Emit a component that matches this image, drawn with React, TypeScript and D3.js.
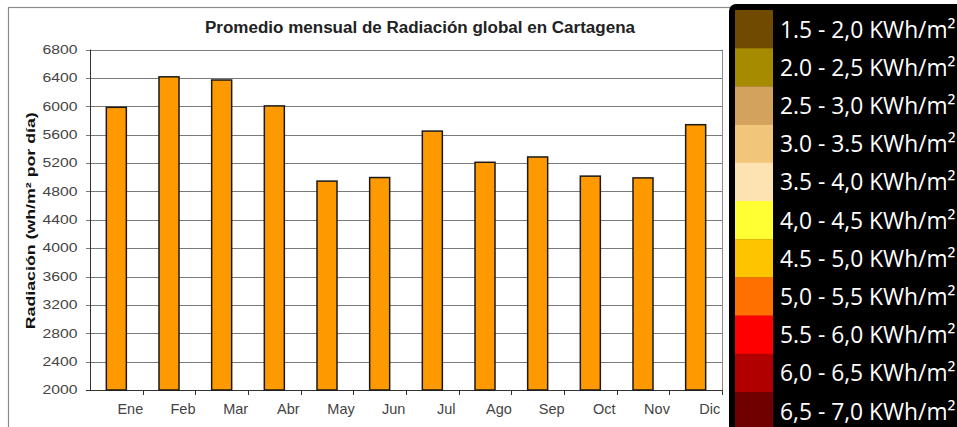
import React, { useEffect, useRef } from "react";
import * as d3 from "d3";

// Datos
const MONTHS = ["Ene", "Feb", "Mar", "Abr", "May", "Jun", "Jul", "Ago", "Sep", "Oct", "Nov", "Dic"];
const RADIATION = [5985, 6415, 6370, 6005, 4945, 4995, 5650, 5210, 5285, 5015, 4990, 5740];
const Y_TICKS = [2000, 2400, 2800, 3200, 3600, 4000, 4400, 4800, 5200, 5600, 6000, 6400, 6800];

const LEGEND_LABELS = [
    "1.5 - 2,0 KWh/m²",
    "2.0 - 2,5 KWh/m²",
    "2.5 - 3,0 KWh/m²",
    "3.0 - 3.5 KWh/m²",
    "3.5 - 4,0 KWh/m²",
    "4,0 - 4,5 KWh/m²",
    "4.5 - 5,0 KWh/m²",
    "5,0 - 5,5 KWh/m²",
    "5.5 - 6,0 KWh/m²",
    "6,0 - 6,5 KWh/m²",
    "6,5 - 7,0 KWh/m²",
];
const LEGEND_COLORS = [
    "#704a00", "#a68b00", "#d3a25d", "#f2c67a", "#fee3b2",
    "#ffff33", "#ffc400", "#ff7000", "#ff0000", "#b00000", "#700000",
];

const W = 957;
const H = 427;
const ARIAL = "'Liberation Sans', Arial, sans-serif";

const App: React.FC = () => {
    const svgRef = useRef<SVGSVGElement>(null);

    useEffect(() => {
        if (!svgRef.current) return;
        const svg = d3.select(svgRef.current);
        svg.selectAll("*").remove();

        const P = { left: 90, right: 722, top: 49.5, bottom: 390 };

        const x = d3.scaleBand<string>().domain(MONTHS).range([P.left, P.right]).padding(0);
        const y = d3.scaleLinear().domain([2000, 6800]).range([P.bottom, P.top]);

        // marco del gráfico
        svg.append("rect")
            .attr("x", 0).attr("y", 0).attr("width", W).attr("height", H)
            .attr("fill", "#fff");
        svg.append("rect")
            .attr("x", 8.5).attr("y", 7.5).attr("width", 740).attr("height", 440)
            .attr("fill", "#fff").attr("stroke", "#8a8a8a").attr("stroke-width", 1.2);

        // título
        svg.append("text")
            .attr("x", 205).attr("y", 33)
            .attr("font-family", ARIAL).attr("font-weight", "bold").attr("font-size", 16)
            .attr("fill", "#222")
            .attr("textLength", 430).attr("lengthAdjust", "spacingAndGlyphs")
            .text("Promedio mensual de Radiación global en Cartagena");

        // rejilla
        svg.append("g")
            .selectAll("line")
            .data(Y_TICKS)
            .enter()
            .append("line")
            .attr("x1", P.left - 4).attr("x2", P.right)
            .attr("y1", (d) => Math.round(y(d)) + 0.5).attr("y2", (d) => Math.round(y(d)) + 0.5)
            .attr("stroke", (d) => (d === 2000 ? "#333" : "#7a7a7a"))
            .attr("stroke-width", 1);

        // borde derecho del área
        svg.append("line")
            .attr("x1", P.right + 0.5).attr("x2", P.right + 0.5)
            .attr("y1", P.top).attr("y2", P.bottom)
            .attr("stroke", "#8a8a8a");

        // eje Y
        svg.append("line")
            .attr("x1", P.left + 0.5).attr("x2", P.left + 0.5)
            .attr("y1", P.top).attr("y2", P.bottom + 1)
            .attr("stroke", "#333");

        svg.append("g")
            .selectAll("text")
            .data(Y_TICKS)
            .enter()
            .append("text")
            .attr("x", 77.5)
            .attr("y", (d) => y(d) + 4.3)
            .attr("text-anchor", "end")
            .attr("font-family", ARIAL).attr("font-size", 12)
            .attr("fill", "#444")
            .attr("textLength", 35).attr("lengthAdjust", "spacingAndGlyphs")
            .text((d) => String(d));

        // título eje Y
        svg.append("text")
            .attr("transform", `translate(34.5,${(P.top + P.bottom) / 2 + 1}) rotate(-90)`)
            .attr("text-anchor", "middle")
            .attr("font-family", ARIAL).attr("font-weight", "bold").attr("font-size", 13.5)
            .attr("fill", "#111")
            .attr("textLength", 217).attr("lengthAdjust", "spacingAndGlyphs")
            .text("Radiación (wh/m² por día)");

        // eje X: marcas entre categorías
        svg.append("g")
            .selectAll("line")
            .data(MONTHS)
            .enter()
            .append("line")
            .attr("x1", (d) => Math.round(x(d)! + x.bandwidth()) + 0.5)
            .attr("x2", (d) => Math.round(x(d)! + x.bandwidth()) + 0.5)
            .attr("y1", P.bottom).attr("y2", P.bottom + 5)
            .attr("stroke", "#333");

        svg.append("g")
            .selectAll("text")
            .data(MONTHS)
            .enter()
            .append("text")
            .attr("x", (d) => x(d)! + x.bandwidth() / 2 + 14)
            .attr("y", 414)
            .attr("text-anchor", "middle")
            .attr("font-family", ARIAL).attr("font-size", 14.5)
            .attr("fill", "#444")
            .text((d) => d);

        // barras
        const bw = x.bandwidth() * 0.38;
        svg.append("g")
            .selectAll("rect")
            .data(RADIATION)
            .enter()
            .append("rect")
            .attr("x", (_d, i) => x(MONTHS[i])! + (x.bandwidth() - bw) / 2)
            .attr("y", (d) => y(d))
            .attr("width", bw)
            .attr("height", (d) => P.bottom - y(d))
            .attr("fill", "#ff9900")
            .attr("stroke", "#1a1a1a")
            .attr("stroke-width", 1.5);

        // leyenda (panel negro)
        const lg = svg.append("g");
        lg.append("rect")
            .attr("x", 729).attr("y", 4).attr("width", 260).attr("height", 460)
            .attr("rx", 7)
            .attr("fill", "#000");

        const sh = 38.2;
        LEGEND_LABELS.forEach((label, i) => {
            lg.append("rect")
                .attr("x", 735).attr("y", 10 + i * sh)
                .attr("width", 38).attr("height", sh + 0.3)
                .attr("fill", LEGEND_COLORS[i]);
            lg.append("text")
                .attr("x", 780).attr("y", 10 + i * sh + 27.5)
                .attr("font-family", "'Open Sans', 'Noto Sans', sans-serif")
                .attr("font-size", 22.8)
                .attr("fill", "#fff")
                .text(label);
        });
    }, []);

    return (
        <svg
            ref={svgRef}
            width={W}
            height={H}
            style={{ position: "absolute", left: 0, top: 0, display: "block" }}
        />
    );
};

export default App;
